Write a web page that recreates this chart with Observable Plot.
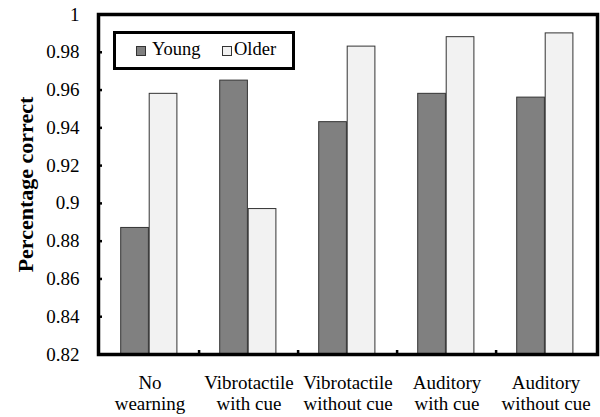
<!DOCTYPE html>
<html>
<head>
<meta charset="utf-8">
<script src="https://cdn.jsdelivr.net/npm/d3@7"></script>
<script src="https://cdn.jsdelivr.net/npm/@observablehq/plot@0.6"></script>
<style>
  html, body { margin: 0; padding: 0; background: #fff; font-family: 'Liberation Serif', serif; }
  #wrap { position: relative; width: 600px; height: 417px; }
  #legend {
    position: absolute; left: 113px; top: 31px; width: 176px; height: 33px;
    border: 3px solid #000; background: #fff;
    font-family: 'Liberation Serif', serif; font-size: 18.5px; color: #000;
  }
  .sw { position: absolute; width: 8px; height: 8px; border: 1px solid #333; top: 12px; }
  .lt { position: absolute; top: 5px; line-height: 20px; }
</style>
</head>
<body>
<div id="wrap"></div>
<script>
const categories = ["No wearning", "Vibrotactile with cue", "Vibrotactile without cue", "Auditory with cue", "Auditory without cue"];
const labelLines = ["No\nwearning", "Vibrotactile\nwith cue", "Vibrotactile\nwithout cue", "Auditory\nwith cue", "Auditory\nwithout cue"];
const series = ["Young", "Older"];
const young = [0.887, 0.965, 0.943, 0.958, 0.956];
const older = [0.958, 0.897, 0.983, 0.988, 0.990];
const yTicks = [0.82, 0.84, 0.86, 0.88, 0.9, 0.92, 0.94, 0.96, 0.98, 1];
const colors = {Young: "#808080", Older: "#f2f2f2"};

const W = 600, H = 417;
const mL = 98, mR = 3, mT = 14, mB = 63;
const bw = (W - mL - mR) / categories.length;

const data = [];
categories.forEach((c, i) => {
  data.push({cat: c, series: "Young", value: young[i]});
  data.push({cat: c, series: "Older", value: older[i]});
});

const font = "'Liberation Serif', serif";

const chart = Plot.plot({
  width: W, height: H,
  marginLeft: mL, marginRight: mR, marginTop: mT, marginBottom: mB,
  style: {fontFamily: font, background: "#fff", color: "#000"},
  x: {domain: categories, padding: 0, axis: null},
  y: {domain: [0.82, 1], axis: null},
  marks: [
    Plot.barY(data.filter(d => d.series === "Young"), {
      x: "cat", y1: 0.82, y2: "value", fill: colors.Young, stroke: "#333", strokeWidth: 1,
      insetLeft: 20.7, insetRight: bw - 49.2
    }),
    Plot.barY(data.filter(d => d.series === "Older"), {
      x: "cat", y1: 0.82, y2: "value", fill: colors.Older, stroke: "#333", strokeWidth: 1,
      insetLeft: 49.2, insetRight: bw - 77.7
    }),
    Plot.axisY({
      ticks: yTicks, tickSize: 0, tickPadding: 19, fontSize: 19,
      tickFormat: d => String(+d.toFixed(2)),
      label: null
    }),
    Plot.text(["Percentage correct"], {
      frameAnchor: "left", textAnchor: "middle", dx: -73, rotate: -90, text: d => d,
      fontSize: 22, fontWeight: "bold", fontFamily: font, fill: "#000"
    }),
    Plot.axisX({
      tickSize: 0, tickPadding: 20, fontSize: 19, lineHeight: 1.1,
      tickFormat: d => labelLines[categories.indexOf(d)], label: null
    }),
    Plot.tickY(yTicks.slice(1, -1), {y: d => d, stroke: "#000", strokeWidth: 2.5, insetRight: (W - mL - mR) - 4}),
    Plot.tickX(categories.slice(1), {x: d => d, dx: -bw / 2, stroke: "#000", strokeWidth: 2.5, insetTop: (H - mT - mB) - 4}),
    Plot.frame({stroke: "#000", strokeWidth: 3.5})
  ]
});

const wrap = document.getElementById("wrap");
wrap.appendChild(chart);
const legend = document.createElement("div");
legend.id = "legend";
legend.innerHTML =
  `<div class="sw" style="left:20px;background:${colors.Young}"></div><div class="lt" style="left:36px">${series[0]}</div>` +
  `<div class="sw" style="left:106px;background:${colors.Older}"></div><div class="lt" style="left:118px">${series[1]}</div>`;
wrap.appendChild(legend);
</script>
</body>
</html>
